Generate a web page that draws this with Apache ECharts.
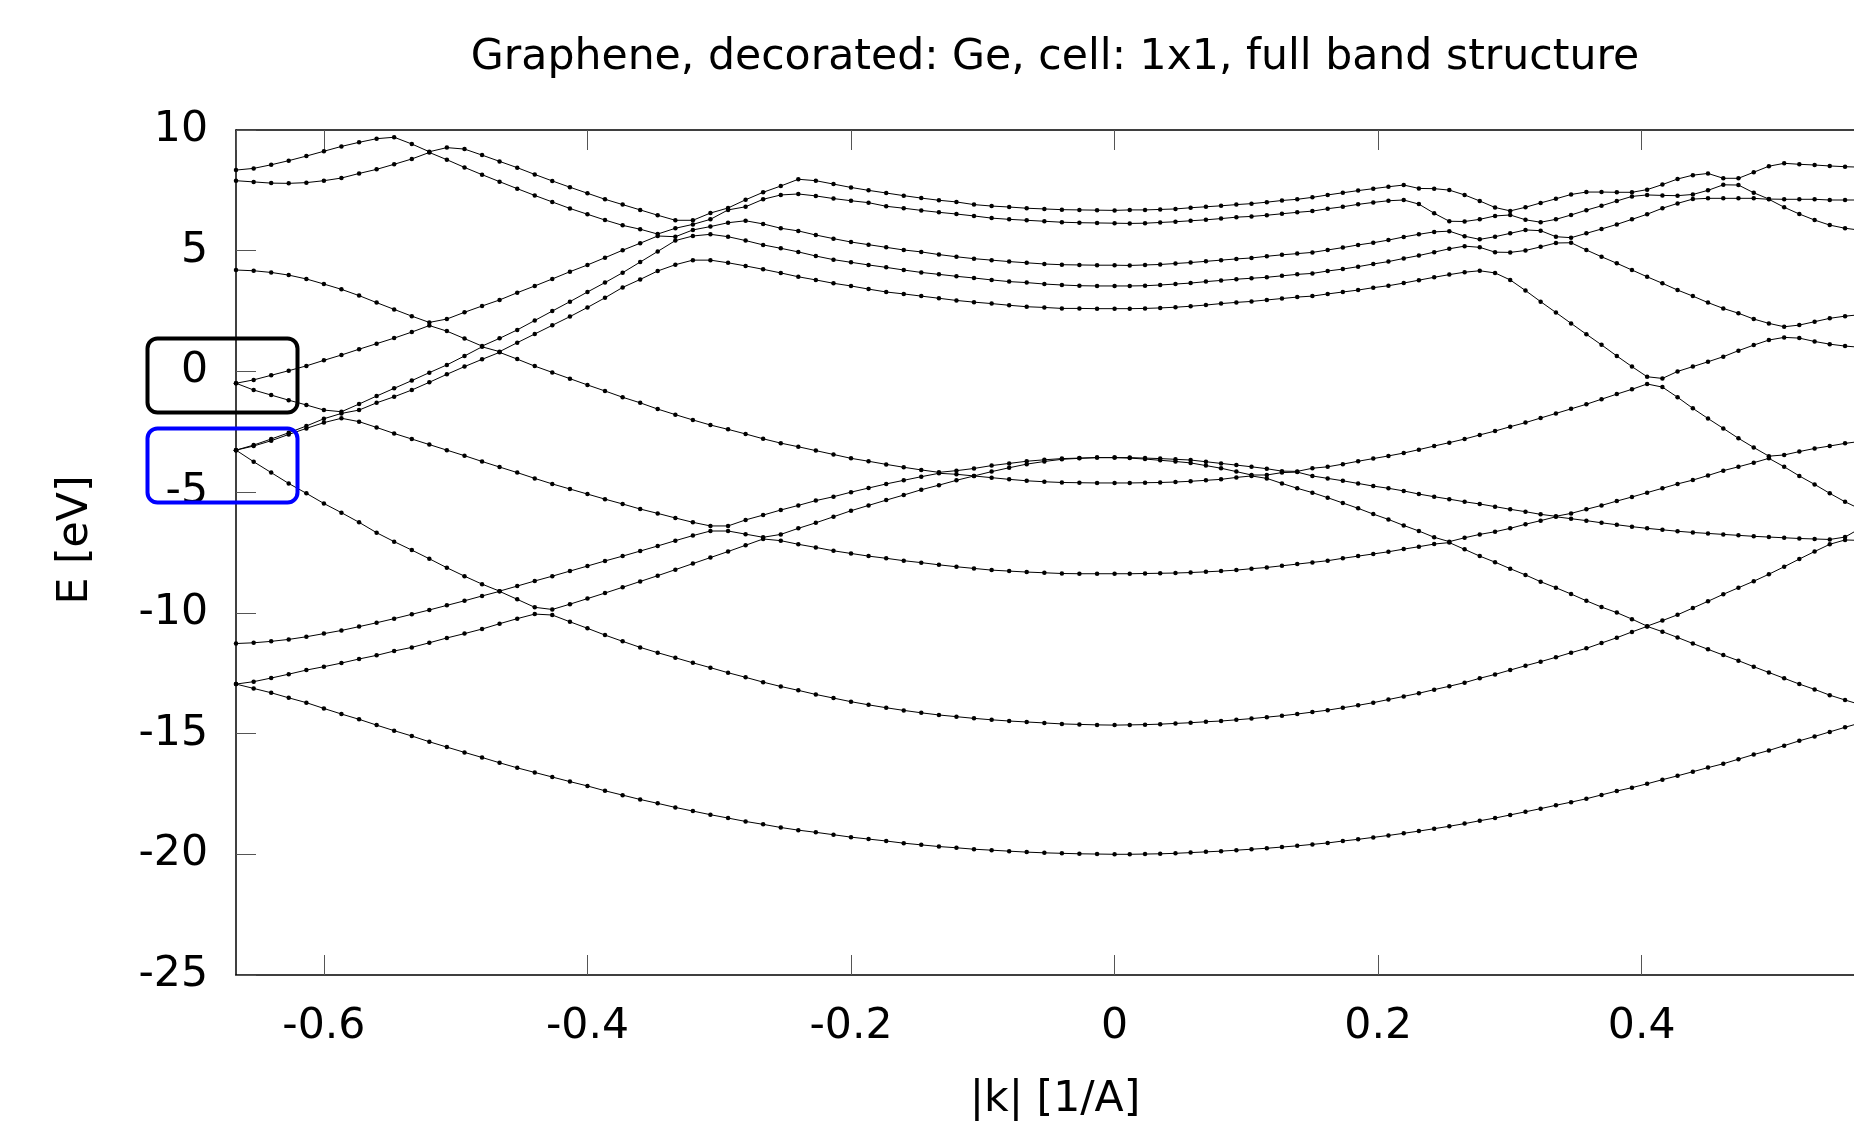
<!DOCTYPE html>
<html>
<head>
<meta charset="utf-8">
<script src="https://cdn.jsdelivr.net/npm/echarts/dist/echarts.min.js"></script>
<style>
html,body{margin:0;padding:0;background:#ffffff;}
#chart{width:1854px;height:1124px;}
</style>
</head>
<body>
<div id="chart"></div>
<script>
// k values along the path [1/A]
const K = [-0.6667,-0.6533,-0.6400,-0.6267,-0.6133,-0.6000,-0.5867,-0.5733,-0.5600,-0.5467,-0.5333,-0.5200,-0.5067,-0.4933,-0.4800,-0.4667,-0.4533,-0.4400,-0.4267,-0.4133,-0.4000,-0.3867,-0.3733,-0.3600,-0.3467,-0.3333,-0.3200,-0.3067,-0.2933,-0.2800,-0.2667,-0.2533,-0.2400,-0.2267,-0.2133,-0.2000,-0.1867,-0.1733,-0.1600,-0.1467,-0.1333,-0.1200,-0.1067,-0.0933,-0.0800,-0.0667,-0.0533,-0.0400,-0.0267,-0.0133,0,
0.0115,0.0231,0.0346,0.0462,0.0577,0.0693,0.0808,0.0924,0.1039,0.1155,0.1270,0.1386,0.1501,0.1617,0.1732,0.1848,0.1963,0.2078,0.2194,0.2309,0.2425,0.2540,0.2656,0.2771,0.2887,0.3002,0.3118,0.3233,0.3349,0.3464,0.3580,0.3695,0.3811,0.3926,0.4041,0.4157,0.4272,0.4388,0.4503,0.4619,0.4734,0.4850,0.4965,0.5081,0.5196,0.5312,0.5427,0.5543,0.5658,0.5774];

// band energies [eV], band 1 = lowest
const BAND_1 = [-12.95,-13.13,-13.31,-13.52,-13.72,-13.96,-14.19,-14.41,-14.65,-14.88,-15.10,-15.34,-15.56,-15.78,-15.99,-16.21,-16.42,-16.61,-16.80,-16.99,-17.17,-17.37,-17.55,-17.73,-17.89,-18.06,-18.21,-18.36,-18.50,-18.64,-18.76,-18.89,-19.00,-19.09,-19.19,-19.29,-19.37,-19.45,-19.54,-19.61,-19.68,-19.73,-19.79,-19.83,-19.87,-19.91,-19.94,-19.96,-19.98,-19.99,-20.00,
-20.00,-19.99,-19.98,-19.96,-19.93,-19.90,-19.87,-19.83,-19.79,-19.75,-19.70,-19.65,-19.59,-19.53,-19.45,-19.38,-19.30,-19.22,-19.13,-19.04,-18.94,-18.84,-18.73,-18.61,-18.50,-18.37,-18.24,-18.11,-17.97,-17.84,-17.70,-17.54,-17.38,-17.24,-17.08,-16.91,-16.75,-16.58,-16.41,-16.25,-16.06,-15.87,-15.70,-15.50,-15.30,-15.12,-14.93,-14.74,-14.56,-14.38];
const BAND_2 = [-12.95,-12.85,-12.70,-12.54,-12.37,-12.23,-12.08,-11.91,-11.76,-11.58,-11.43,-11.24,-11.04,-10.86,-10.67,-10.45,-10.24,-10.05,-10.09,-10.37,-10.64,-10.92,-11.18,-11.43,-11.65,-11.86,-12.07,-12.27,-12.48,-12.67,-12.87,-13.05,-13.21,-13.38,-13.53,-13.68,-13.81,-13.93,-14.04,-14.14,-14.23,-14.30,-14.37,-14.43,-14.48,-14.52,-14.56,-14.60,-14.62,-14.64,-14.65,
-14.64,-14.63,-14.61,-14.58,-14.55,-14.51,-14.48,-14.43,-14.38,-14.32,-14.26,-14.19,-14.11,-14.03,-13.93,-13.83,-13.72,-13.59,-13.46,-13.33,-13.18,-13.04,-12.89,-12.71,-12.55,-12.37,-12.19,-12.02,-11.84,-11.65,-11.47,-11.25,-11.03,-10.79,-10.56,-10.78,-11.02,-11.27,-11.51,-11.75,-11.98,-12.23,-12.47,-12.71,-12.95,-13.17,-13.41,-13.61,-13.80,-13.95];
const BAND_3 = [-11.27,-11.24,-11.18,-11.10,-10.99,-10.86,-10.73,-10.57,-10.41,-10.24,-10.06,-9.88,-9.69,-9.50,-9.30,-9.11,-9.44,-9.77,-9.86,-9.64,-9.41,-9.18,-8.94,-8.70,-8.46,-8.21,-7.96,-7.71,-7.46,-7.20,-6.94,-7.01,-7.16,-7.29,-7.43,-7.54,-7.65,-7.74,-7.84,-7.92,-8.01,-8.09,-8.16,-8.23,-8.27,-8.31,-8.34,-8.37,-8.38,-8.38,-8.38,
-8.38,-8.37,-8.36,-8.35,-8.33,-8.30,-8.27,-8.23,-8.17,-8.12,-8.05,-7.98,-7.91,-7.84,-7.74,-7.65,-7.56,-7.47,-7.36,-7.26,-7.15,-7.09,-7.37,-7.65,-7.90,-8.17,-8.43,-8.71,-8.96,-9.22,-9.50,-9.76,-9.99,-10.26,-10.55,-10.32,-10.08,-9.80,-9.52,-9.23,-8.96,-8.69,-8.40,-8.09,-7.77,-7.46,-7.16,-6.98,-7.00,-7.00];
const BAND_4 = [-3.26,-3.74,-4.19,-4.64,-5.05,-5.47,-5.85,-6.25,-6.68,-7.05,-7.40,-7.76,-8.13,-8.48,-8.81,-9.10,-8.89,-8.68,-8.48,-8.27,-8.06,-7.85,-7.65,-7.44,-7.23,-7.01,-6.80,-6.61,-6.61,-6.74,-6.87,-6.75,-6.50,-6.27,-6.02,-5.77,-5.55,-5.33,-5.12,-4.90,-4.71,-4.51,-4.33,-4.40,-4.47,-4.53,-4.57,-4.60,-4.61,-4.62,-4.62,
-4.62,-4.61,-4.60,-4.58,-4.55,-4.51,-4.47,-4.39,-4.33,-4.43,-4.64,-4.84,-5.02,-5.23,-5.45,-5.67,-5.91,-6.13,-6.38,-6.61,-6.87,-7.05,-6.89,-6.75,-6.64,-6.50,-6.33,-6.18,-6.02,-6.10,-6.18,-6.27,-6.35,-6.43,-6.50,-6.56,-6.62,-6.67,-6.71,-6.75,-6.79,-6.83,-6.86,-6.89,-6.92,-6.94,-6.96,-6.86,-6.50,-6.13];
const BAND_5 = [-3.26,-3.09,-2.87,-2.61,-2.36,-2.12,-1.94,-2.08,-2.32,-2.57,-2.80,-3.03,-3.26,-3.49,-3.73,-3.96,-4.19,-4.43,-4.66,-4.87,-5.08,-5.29,-5.49,-5.70,-5.88,-6.07,-6.25,-6.40,-6.40,-6.15,-5.95,-5.74,-5.55,-5.35,-5.19,-5.00,-4.83,-4.66,-4.51,-4.36,-4.22,-4.26,-4.33,-4.15,-3.99,-3.84,-3.73,-3.64,-3.60,-3.57,-3.57,
-3.59,-3.63,-3.68,-3.73,-3.79,-3.90,-4.01,-4.15,-4.29,-4.29,-4.19,-4.17,-4.33,-4.43,-4.53,-4.64,-4.75,-4.84,-4.95,-5.08,-5.19,-5.29,-5.40,-5.49,-5.60,-5.71,-5.81,-5.92,-6.00,-5.88,-5.71,-5.55,-5.37,-5.20,-5.02,-4.84,-4.66,-4.50,-4.31,-4.11,-3.95,-3.78,-3.60,-3.95,-4.33,-4.68,-5.05,-5.40,-5.70,-5.90];
const BAND_6 = [-3.26,-3.05,-2.80,-2.54,-2.26,-1.96,-1.74,-1.60,-1.30,-1.05,-0.77,-0.45,-0.12,0.20,0.50,0.79,0.51,0.22,-0.04,-0.30,-0.56,-0.81,-1.07,-1.30,-1.56,-1.79,-2.01,-2.22,-2.40,-2.59,-2.79,-2.97,-3.12,-3.28,-3.44,-3.60,-3.72,-3.85,-3.97,-4.08,-4.18,-4.11,-4.02,-3.90,-3.81,-3.72,-3.66,-3.61,-3.59,-3.57,-3.57,
-3.57,-3.59,-3.61,-3.64,-3.67,-3.74,-3.81,-3.88,-3.95,-4.03,-4.13,-4.14,-4.01,-3.95,-3.84,-3.72,-3.61,-3.50,-3.38,-3.24,-3.09,-2.95,-2.80,-2.63,-2.47,-2.29,-2.12,-1.93,-1.74,-1.55,-1.36,-1.15,-0.94,-0.74,-0.52,-0.65,-1.07,-1.53,-1.95,-2.36,-2.77,-3.15,-3.51,-3.46,-3.32,-3.19,-3.09,-2.98,-2.90,-2.85];
const BAND_7 = [-0.49,-0.77,-0.98,-1.19,-1.39,-1.60,-1.67,-1.35,-1.02,-0.70,-0.38,-0.05,0.27,0.64,1.02,0.82,1.19,1.55,1.91,2.27,2.65,3.05,3.48,3.81,4.16,4.42,4.61,4.61,4.50,4.37,4.23,4.08,3.92,3.79,3.65,3.54,3.41,3.29,3.21,3.12,3.03,2.94,2.87,2.81,2.74,2.68,2.65,2.61,2.61,2.60,2.60,
2.60,2.61,2.63,2.66,2.70,2.75,2.81,2.86,2.90,2.96,3.02,3.08,3.12,3.21,3.29,3.37,3.47,3.55,3.66,3.78,3.90,4.01,4.11,4.17,4.08,3.79,3.35,2.89,2.44,1.99,1.54,1.10,0.64,0.20,-0.22,-0.29,0.00,0.20,0.40,0.61,0.86,1.09,1.30,1.41,1.38,1.24,1.13,1.05,1.00,0.98];
const BAND_8 = [-0.49,-0.35,-0.16,0.03,0.23,0.46,0.68,0.92,1.15,1.38,1.63,1.90,1.67,1.36,1.05,1.37,1.72,2.11,2.50,2.89,3.29,3.68,4.09,4.53,4.97,5.42,5.61,5.68,5.58,5.42,5.24,5.10,4.95,4.78,4.63,4.52,4.41,4.31,4.20,4.10,4.02,3.94,3.87,3.79,3.72,3.68,3.62,3.58,3.55,3.54,3.54,
3.54,3.55,3.58,3.62,3.66,3.72,3.77,3.82,3.86,3.90,3.96,4.02,4.06,4.16,4.24,4.34,4.45,4.55,4.68,4.80,4.94,5.08,5.19,5.14,4.94,4.93,5.01,5.16,5.32,5.33,5.03,4.75,4.48,4.20,3.92,3.65,3.37,3.12,2.85,2.61,2.41,2.17,1.99,1.85,1.92,2.06,2.20,2.29,2.35,2.38];
const BAND_9 = [4.20,4.17,4.10,3.99,3.83,3.62,3.40,3.14,2.85,2.57,2.29,2.03,2.17,2.45,2.71,2.96,3.26,3.54,3.83,4.13,4.41,4.71,5.02,5.31,5.61,5.58,5.86,6.00,6.16,6.24,6.11,5.93,5.82,5.65,5.50,5.36,5.25,5.14,5.03,4.95,4.84,4.75,4.67,4.61,4.55,4.50,4.45,4.42,4.41,4.40,4.40,
4.39,4.41,4.43,4.47,4.51,4.56,4.61,4.66,4.70,4.77,4.83,4.88,4.93,5.03,5.13,5.24,5.33,5.44,5.57,5.68,5.78,5.81,5.60,5.47,5.58,5.72,5.86,5.83,5.58,5.54,5.72,5.90,6.09,6.30,6.51,6.76,6.96,7.14,7.17,7.17,7.17,7.17,7.13,6.80,6.52,6.27,6.06,5.93,5.85,5.80];
const BAND_10 = [7.90,7.85,7.80,7.79,7.82,7.90,8.01,8.20,8.37,8.58,8.80,9.07,8.77,8.45,8.15,7.86,7.57,7.29,7.02,6.75,6.51,6.27,6.05,5.89,5.69,5.93,6.09,6.30,6.69,6.82,7.13,7.31,7.35,7.27,7.16,7.07,6.99,6.84,6.76,6.67,6.59,6.52,6.44,6.35,6.30,6.26,6.22,6.18,6.16,6.15,6.14,
6.13,6.14,6.17,6.20,6.24,6.28,6.33,6.39,6.42,6.47,6.53,6.59,6.64,6.74,6.82,6.92,7.00,7.07,7.10,6.93,6.55,6.22,6.21,6.30,6.44,6.48,6.28,6.18,6.30,6.48,6.68,6.86,7.06,7.25,7.31,7.29,7.28,7.33,7.50,7.73,7.72,7.40,7.14,7.13,7.13,7.13,7.10,7.10,7.10,7.10];
const BAND_11 = [8.34,8.41,8.56,8.73,8.92,9.12,9.32,9.49,9.64,9.70,9.42,9.10,9.27,9.21,8.96,8.70,8.44,8.16,7.89,7.63,7.38,7.13,6.91,6.69,6.47,6.26,6.26,6.56,6.77,7.11,7.42,7.68,7.96,7.90,7.76,7.62,7.50,7.39,7.28,7.18,7.09,7.02,6.91,6.85,6.81,6.76,6.73,6.70,6.69,6.68,6.67,
6.69,6.69,6.71,6.73,6.78,6.82,6.86,6.91,6.95,7.01,7.08,7.13,7.21,7.31,7.40,7.49,7.57,7.65,7.72,7.58,7.57,7.51,7.31,7.06,6.79,6.65,6.80,6.98,7.15,7.33,7.43,7.43,7.42,7.42,7.53,7.74,7.97,8.13,8.20,8.00,8.00,8.25,8.50,8.62,8.58,8.55,8.51,8.48,8.46,8.45];

const TITLE = 'Graphene, decorated: Ge, cell: 1x1, full band structure';
const X_NAME = '|k| [1/A]';
const Y_NAME = 'E [eV]';
const X_MIN = -0.6667, X_MAX = 0.5774, X_STEP = 0.2;
const Y_MIN = -25, Y_MAX = 10, Y_STEP = 5;

const BANDS = [BAND_1, BAND_2, BAND_3, BAND_4, BAND_5, BAND_6, BAND_7, BAND_8, BAND_9, BAND_10, BAND_11];
const FONT = 'DejaVu Sans';
const FS = 42.6;

const chart = echarts.init(document.getElementById('chart'), null, {renderer: 'canvas', width: 1854, height: 1124});

const axisLineStyle = {color: '#000', width: 1.5};
const tickStyle = {color: '#555', width: 1};

const option = {
  animation: false,
  backgroundColor: '#ffffff',
  grid: {left: 236, right: -21.5, top: 130, bottom: 149, containLabel: false, outerBoundsMode: 'none'},
  xAxis: [
    {
      type: 'value', min: X_MIN, max: X_MAX, minInterval: X_STEP, maxInterval: X_STEP, position: 'bottom',
      axisLine: {show: true, onZero: false, lineStyle: axisLineStyle},
      axisTick: {show: true, inside: true, length: 20, lineStyle: tickStyle},
      axisLabel: {show: true, showMinLabel: false, showMaxLabel: false, margin: 30, fontFamily: FONT, fontSize: FS, color: '#000'},
      splitLine: {show: false}
    },
    {
      type: 'value', min: X_MIN, max: X_MAX, minInterval: X_STEP, maxInterval: X_STEP, position: 'top',
      axisLine: {show: true, onZero: false, lineStyle: axisLineStyle},
      axisTick: {show: true, inside: true, length: 20, lineStyle: tickStyle},
      axisLabel: {show: false},
      splitLine: {show: false}
    }
  ],
  yAxis: [
    {
      type: 'value', min: Y_MIN, max: Y_MAX, interval: Y_STEP, position: 'left',
      axisLine: {show: true, onZero: false, lineStyle: axisLineStyle},
      axisTick: {show: true, inside: true, length: 20, lineStyle: tickStyle},
      axisLabel: {show: true, margin: 28, fontFamily: FONT, fontSize: FS, color: '#000'},
      splitLine: {show: false}
    }
  ],
  series: BANDS.map((b, n) => ({
    type: 'line',
    name: 'band ' + (n + 1),
    xAxisIndex: 0,
    yAxisIndex: 0,
    data: K.map((k, i) => [k, b[i]]),
    symbol: 'circle',
    symbolSize: 4.5,
    showSymbol: true,
    showAllSymbol: true,
    clip: true,
    silent: true,
    lineStyle: {color: '#000', width: 1},
    itemStyle: {color: '#000'},
    emphasis: {disabled: true}
  })),
  graphic: [
    {type: 'text', x: 1055, y: 57.5, z: 50,
     style: {text: TITLE, fontFamily: FONT, fontSize: FS, fill: '#000', align: 'center', verticalAlign: 'middle', textAlign: 'center', textVerticalAlign: 'middle'}},
    {type: 'text', x: 1055, y: 1100, z: 50,
     style: {text: X_NAME, fontFamily: FONT, fontSize: FS, fill: '#000', align: 'center', verticalAlign: 'middle', textAlign: 'center', textVerticalAlign: 'middle'}},
    {type: 'text', x: 76, y: 540, rotation: Math.PI / 2, z: 50,
     style: {text: Y_NAME, fontFamily: FONT, fontSize: FS, fill: '#000', align: 'center', verticalAlign: 'middle', textAlign: 'center', textVerticalAlign: 'middle'}},
    {type: 'rect', z: 100, shape: {x: 147.5, y: 338.5, width: 150, height: 74, r: 10},
     style: {fill: 'none', stroke: '#000000', lineWidth: 4}},
    {type: 'rect', z: 100, shape: {x: 147.5, y: 428.5, width: 150, height: 74, r: 10},
     style: {fill: 'none', stroke: '#0000ff', lineWidth: 4}}
  ]
};
chart.setOption(option);
</script>
</body>
</html>
